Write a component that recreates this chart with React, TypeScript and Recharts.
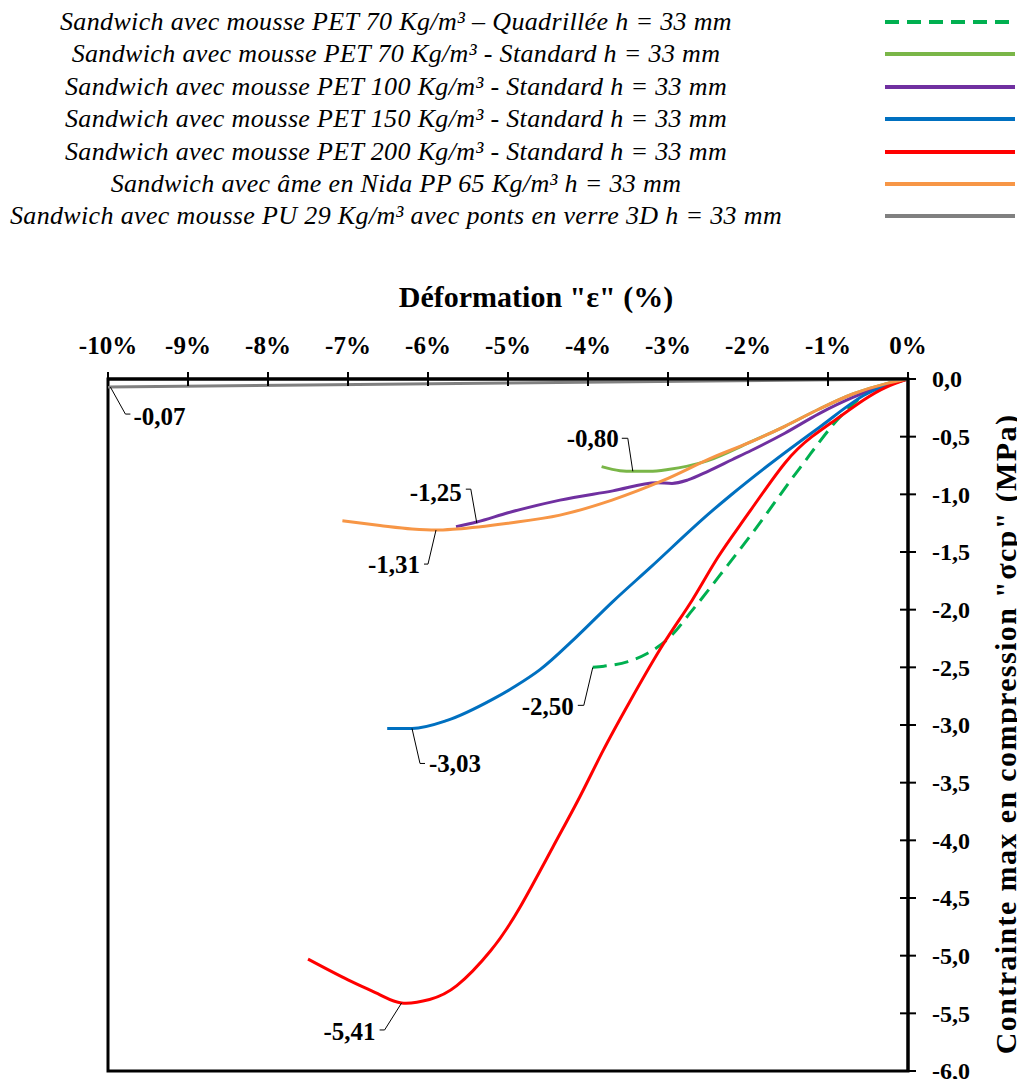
import { LineChart, Line, XAxis, YAxis, Legend, ReferenceArea, ReferenceDot, Label } from "recharts";

// axes
const STRAIN_TICKS = [-10, -9, -8, -7, -6, -5, -4, -3, -2, -1, 0];
const STRESS_TICKS = [0, -0.5, -1, -1.5, -2, -2.5, -3, -3.5, -4, -4.5, -5, -5.5, -6];

// strain (%) / stress (MPa)
const quadStrain = [-3.94, -3.8, -3.5, -3.26, -2.98, -2.69, -2.26, -1.96, -1.35, -0.81, -0.51, -0.2, 0];
const quadStress = [-2.5, -2.49, -2.45, -2.38, -2.24, -2.0, -1.62, -1.35, -0.77, -0.3, -0.12, -0.03, 0];

const pet70Strain = [-3.83, -3.6, -3.44, -3.23, -3.0, -2.51, -1.98, -1.54, -1.11, -0.69, -0.27, 0];
const pet70Stress = [-0.76, -0.795, -0.8, -0.8, -0.785, -0.71, -0.55, -0.41, -0.26, -0.13, -0.04, 0];

const pet100Strain = [-5.65, -5.39, -5.0, -4.35, -3.69, -3.14, -2.95, -2.75, -2.5, -2.2, -1.96, -1.54, -1.11, -0.69, -0.27, 0];
const pet100Stress = [-1.28, -1.24, -1.16, -1.05, -0.97, -0.9, -0.905, -0.875, -0.8, -0.7, -0.62, -0.47, -0.3, -0.16, -0.05, 0];

const pet150Strain = [-6.51, -6.2, -5.76, -5.2, -4.9, -4.6, -4.15, -3.69, -3.23, -2.46, -2.22, -1.75, -1.11, -0.52, 0];
const pet150Stress = [-3.03, -3.03, -2.96, -2.78, -2.66, -2.52, -2.24, -1.93, -1.64, -1.15, -1.01, -0.75, -0.42, -0.13, 0];

const pet200Strain = [-7.5, -7.0, -6.6, -6.33, -5.98, -5.64, -5.22, -4.85, -4.44, -4.1, -3.81, -3.48, -3.06, -2.7, -2.38, -2.0, -1.54, -1.2, -0.9, -0.55, -0.27, 0];
const pet200Stress = [-5.03, -5.21, -5.34, -5.41, -5.38, -5.26, -4.96, -4.58, -4.06, -3.62, -3.22, -2.8, -2.3, -1.92, -1.55, -1.17, -0.73, -0.5, -0.35, -0.18, -0.07, 0];

const nidaStrain = [-7.07, -6.6, -6.2, -5.9, -5.64, -5.0, -4.35, -3.7, -3.06, -2.44, -1.98, -1.54, -1.11, -0.69, -0.27, 0];
const nidaStress = [-1.23, -1.27, -1.3, -1.31, -1.3, -1.25, -1.18, -1.05, -0.88, -0.68, -0.55, -0.41, -0.26, -0.13, -0.04, 0];

const puStrain = [-10, -5, 0];
const puStress = [-0.07, -0.035, 0];

// value labels
const peakStrain = [-9.97, -3.44, -5.39, -5.9, -3.94, -6.2, -6.33];
const peakStress = [-0.07, -0.8, -1.25, -1.31, -2.5, -3.03, -5.41];

const zip = (xs: number[], ys: number[]) => xs.map((x, i) => ({ x, y: ys[i] }));

const SERIES = [
  { name: "Sandwich avec mousse PET 70 Kg/m³ – Quadrillée h = 33 mm", data: zip(quadStrain, quadStress), color: "#00B050", dash: "14 8" },
  { name: "Sandwich avec mousse PET 70 Kg/m³ - Standard h = 33 mm", data: zip(pet70Strain, pet70Stress), color: "#7AB648" },
  { name: "Sandwich avec mousse PET 100 Kg/m³ - Standard h = 33 mm", data: zip(pet100Strain, pet100Stress), color: "#7030A0" },
  { name: "Sandwich avec mousse PET 150 Kg/m³ - Standard h = 33 mm", data: zip(pet150Strain, pet150Stress), color: "#0070C0" },
  { name: "Sandwich avec mousse PET 200 Kg/m³ - Standard h = 33 mm", data: zip(pet200Strain, pet200Stress), color: "#FF0000", curve: "natural" },
  { name: "Sandwich avec âme en Nida PP 65 Kg/m³ h = 33 mm", data: zip(nidaStrain, nidaStress), color: "#F79646" },
  { name: "Sandwich avec mousse PU 29 Kg/m³ avec ponts en verre 3D h = 33 mm", data: zip(puStrain, puStress), color: "#808080" },
];

// leader line offsets (px) for each value label: elbow point, then text anchor
const LEADERS = [
  { ex: 15, ey: 27, hx: 20, tx: 23, ty: 29, anchor: "start" },
  { ex: -5, ey: -33, hx: -11, tx: -14, ty: -33, anchor: "end" },
  { ex: -6, ey: -34, hx: -11, tx: -15, ty: -31, anchor: "end" },
  { ex: -8, ey: 34, hx: -12, tx: -16, ty: 34, anchor: "end" },
  { ex: -9, ey: 38, hx: -15, tx: -19, ty: 39, anchor: "end" },
  { ex: 8, ey: 35, hx: 13, tx: 17, ty: 35, anchor: "start" },
  { ex: -17, ey: 27, hx: -22, tx: -26, ty: 28, anchor: "end" },
];

const SERIF = "'Liberation Serif', 'Times New Roman', serif";
const TICK_FONT = { fontFamily: SERIF, fontWeight: 700, fontSize: 25, fill: "#000" };
const TITLE_FONT = { fontFamily: SERIF, fontWeight: 700, fontSize: 30, fill: "#000" };

const fmtComma = (v: number, d: number) => v.toFixed(d).replace(".", ",");

const renderXTick = (props: any) => {
  const { x, y, payload } = props;
  return (
    <g>
      <line x1={x} x2={x} y1={y - 7} y2={y + 7} stroke="#000" strokeWidth={2} />
      <text x={x} y={y - 25} textAnchor="middle" style={TICK_FONT}>
        {payload.value}%
      </text>
    </g>
  );
};

const renderYTick = (props: any) => {
  const { x, y, payload } = props;
  return (
    <g>
      <line x1={x - 8} x2={x + 8} y1={y} y2={y} stroke="#000" strokeWidth={2} />
      <text x={x + 24} y={y} dy="0.35em" textAnchor="start" style={{ ...TICK_FONT, fontSize: 24 }}>
        {fmtComma(payload.value, 1)}
      </text>
    </g>
  );
};

const renderXLabel = (props: any) => {
  const { viewBox } = props;
  return (
    <text x={viewBox.x + 428} y={viewBox.y + viewBox.height - 72} textAnchor="middle" style={TITLE_FONT}>
      Déformation "ε" (%)
    </text>
  );
};

const renderYLabel = (props: any) => {
  const { viewBox } = props;
  const cx = viewBox.x + 97;
  const cy = viewBox.y + viewBox.height / 2 + 9;
  return (
    <text
      x={cx}
      y={cy}
      dy="0.35em"
      textAnchor="middle"
      transform={`rotate(-90 ${cx} ${cy})`}
      style={{ ...TITLE_FONT, letterSpacing: 1.4 }}
    >
      Contrainte max en compression "σcp" (MPa)
    </text>
  );
};

const makePeakShape = (i: number) => (props: any) => {
  const { cx, cy } = props;
  const l = LEADERS[i];
  return (
    <g>
      <polyline
        points={`${cx},${cy} ${cx + l.ex},${cy + l.ey} ${cx + l.hx},${cy + l.ey}`}
        fill="none"
        stroke="#000"
        strokeWidth={1}
      />
      <text x={cx + l.tx} y={cy + l.ty} dy="0.35em" textAnchor={l.anchor as any} style={TICK_FONT}>
        {fmtComma(peakStress[i], 2)}
      </text>
    </g>
  );
};

const renderLegend = (props: any) => {
  const order = (name: string) => SERIES.findIndex((s) => s.name === name);
  const items = [...(props.payload ?? [])].sort((a: any, b: any) => order(a.value) - order(b.value));
  return (
    <div style={{ position: "relative", width: 1017, height: 230 }}>
      {items.map((item: any, i: number) => {
        const s = SERIES[order(item.value)];
        return (
          <div
            key={item.value}
            style={{ position: "absolute", left: 0, top: i * 32.4 - 2, width: 1017, height: 32, display: "flex", alignItems: "center" }}
          >
            <span
              style={{
                width: 776,
                textAlign: "center",
                fontFamily: SERIF,
                fontStyle: "italic",
                fontSize: 26,
                letterSpacing: 0.35,
                color: "#000",
                whiteSpace: "nowrap",
              }}
            >
              {item.value}
            </span>
            <svg width={130} height={8} style={{ position: "absolute", left: 877, top: 12 }}>
              <line x1={0} x2={130} y1={4} y2={4} stroke={s?.color ?? item.color} strokeWidth={4} strokeDasharray={s?.dash} />
            </svg>
          </div>
        );
      })}
    </div>
  );
};

export default function App() {
  return (
    <LineChart width={1017} height={1071} margin={{ top: 0, right: 0, bottom: 8, left: 100 }}>
      <XAxis
        type="number"
        dataKey="x"
        domain={[-10, 0]}
        ticks={STRAIN_TICKS}
        interval={0}
        orientation="top"
        height={141}
        allowDataOverflow
        axisLine={{ stroke: "#000", strokeWidth: 3 }}
        tickLine={false}
        tickSize={0}
        tickMargin={0}
        tick={renderXTick}
      >
        <Label content={renderXLabel} />
      </XAxis>
      <YAxis
        type="number"
        domain={[-6, 0]}
        ticks={STRESS_TICKS}
        interval={0}
        orientation="right"
        width={117}
        allowDataOverflow
        axisLine={{ stroke: "#000", strokeWidth: 3 }}
        tickLine={false}
        tickSize={0}
        tickMargin={0}
        tick={renderYTick}
      >
        <Label content={renderYLabel} />
      </YAxis>
      <Legend verticalAlign="top" align="left" height={230} wrapperStyle={{ left: 0, width: 1017 }} content={renderLegend} />
      <ReferenceArea x1={-10} x2={0} y1={-6} y2={0} fill="none" stroke="#000" strokeWidth={3} ifOverflow="visible" />
      {SERIES.map((s) => (
        <Line
          key={s.name}
          name={s.name}
          data={s.data}
          dataKey="y"
          type={(s.curve ?? "monotone") as any}
          stroke={s.color}
          strokeWidth={3}
          strokeDasharray={s.dash}
          dot={false}
          isAnimationActive={false}
        />
      ))}
      {peakStrain.map((x, i) => (
        <ReferenceDot key={i} x={x} y={peakStress[i]} r={0} ifOverflow="visible" shape={makePeakShape(i)} />
      ))}
    </LineChart>
  );
}
